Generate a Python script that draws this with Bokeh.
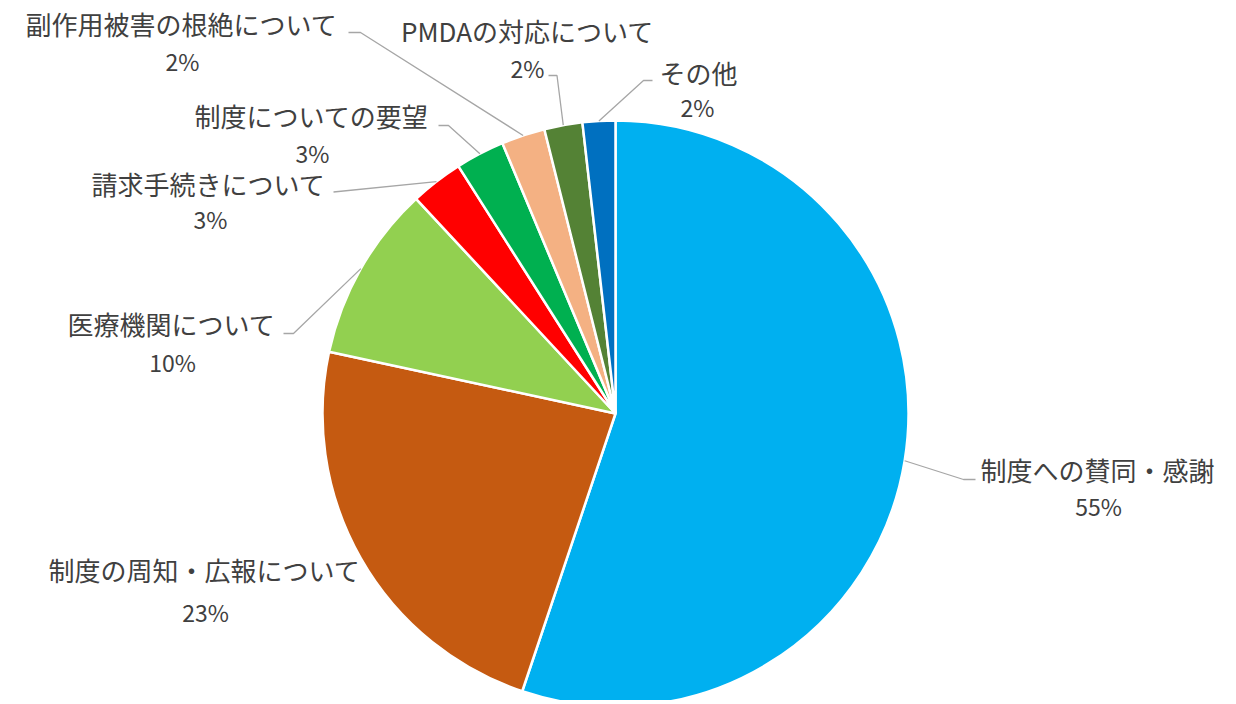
import math
from bokeh.plotting import figure
from bokeh.models import Range1d, ColumnDataSource
from bokeh.core.properties import value
from bokeh.embed import file_html
from bokeh.resources import INLINE

# ---- data (clockwise from 12 o'clock) ----
categories = ["制度への賛同・感謝", "制度の周知・広報について", "医療機関について",
              "請求手続きについて", "制度についての要望", "副作用被害の根絶について",
              "PMDAの対応について", "その他"]
values = [55.1, 23.2, 9.7, 2.9, 2.7, 2.4, 2.1, 1.8]
colors = ["#00B0F0", "#C55A11", "#92D050", "#FF0000", "#00B050", "#F4B183",
          "#548235", "#0070C0"]

# ---- layout (screen coordinates of the 1236x704 page) ----
PAGE_H = 704
CX, CY, R = 615, 413, 293
name_pos = [(1097, 469), (204, 569), (171, 323), (208, 183), (311, 115),
            (181, 23), (527, 30), (698, 72)]
pct_pos = [(1098, 505), (205, 611), (172, 361), (210, 218), (312, 152),
           (182, 60), (527, 67), (697, 106)]
# leader elbow points near each label (None = no leader)
leader_pts = [[(963, 479), (975, 479)], None, [(293, 333), (283, 333)],
              [(333, 191.5)], [(448, 125), (438, 125)], [(360, 32), (348, 32)],
              [(556.5, 75), (548, 75)], [(643, 80), (652, 80)]]

W, H = 1228, 700
p = figure(width=W, height=H, output_backend="svg", toolbar_location=None,
           x_range=Range1d(0, W), y_range=Range1d(PAGE_H - H, PAGE_H),
           x_axis_type=None, y_axis_type=None, min_border=0)
p.grid.visible = False
p.outline_line_color = None
p.background_fill_color = "white"
p.border_fill_color = "white"

def up(y):
    return PAGE_H - y

total = sum(values)
cum = 0.0
starts, ends, mids = [], [], []
for v in values:
    t0 = cum / total * 2 * math.pi
    cum += v
    t1 = cum / total * 2 * math.pi
    starts.append(math.pi / 2 - t1)
    ends.append(math.pi / 2 - t0)
    mids.append((t0 + t1) / 2)

src = ColumnDataSource(dict(start=starts, end=ends, color=colors))
p.wedge(x=CX, y=up(CY), radius=R, start_angle="start", end_angle="end",
        fill_color="color", line_color="white", line_width=2.5, source=src)

# leader lines
xs, ys = [], []
for m, pts in zip(mids, leader_pts):
    if pts is None:
        continue
    ex = CX + R * math.sin(m)
    ey = CY - R * math.cos(m)
    lx = [ex] + [q[0] for q in pts]
    ly = [up(ey)] + [up(q[1]) for q in pts]
    xs.append(lx)
    ys.append(ly)
p.multi_line(xs=xs, ys=ys, line_color="#A6A6A6", line_width=1.3)

pct_labels = [f"{round(v / total * 100)}%" for v in values]
font = value("Noto Sans CJK JP")
p.text(x=[q[0] for q in name_pos], y=[up(q[1]) for q in name_pos], text=categories,
       text_font=font, text_font_size="26px", text_align="center",
       text_baseline="middle", text_color="#404040")
p.text(x=[q[0] for q in pct_pos], y=[up(q[1]) for q in pct_pos], text=pct_labels,
       text_font=font, text_font_size="23px", text_align="center",
       text_baseline="middle", text_color="#404040")

open("out.html", "w").write(file_html(p, INLINE))
